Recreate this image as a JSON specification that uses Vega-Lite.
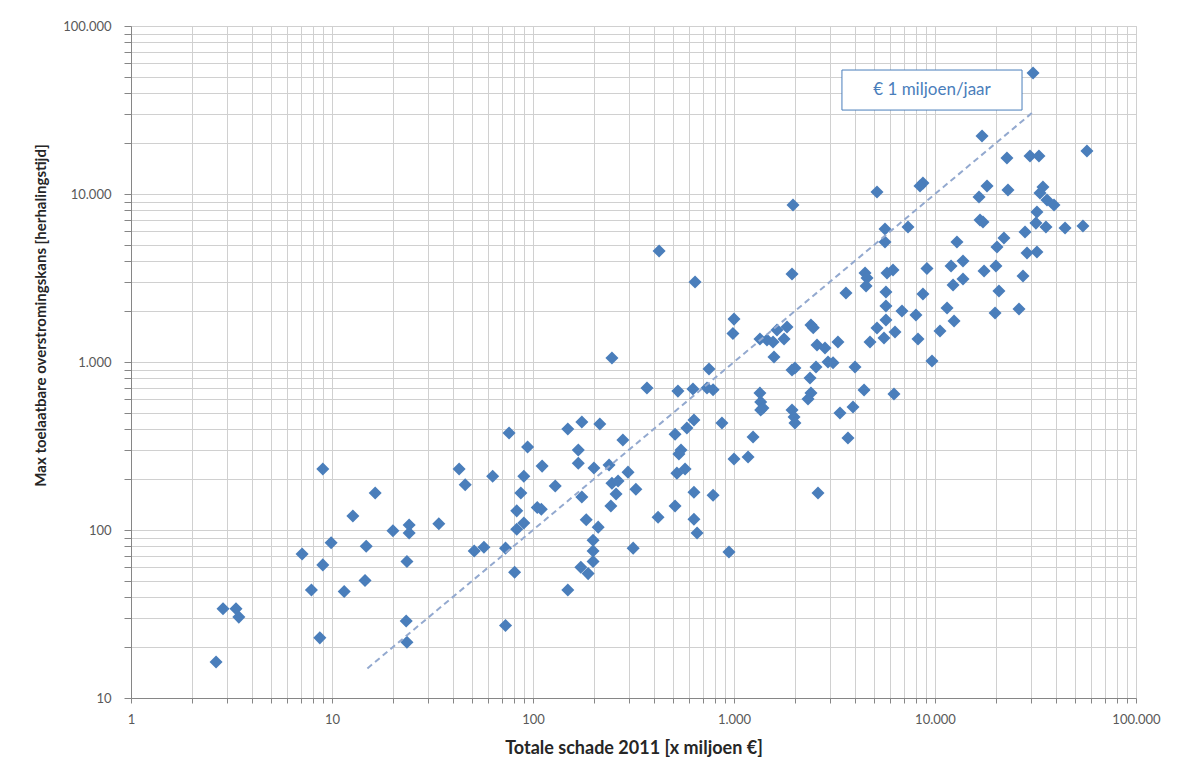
{
  "$schema": "https://vega.github.io/schema/vega-lite/v6.json",
  "width": 1005,
  "height": 672,
  "autosize": {"type": "none"},
  "padding": {"left": 131, "top": 26, "right": 45, "bottom": 78},
  "background": "white",
  "config": {
    "view": {"stroke": "#d0d0d0", "strokeWidth": 1},
    "font": "Lato",
    "axis": {
      "gridColor": "#d0d0d0",
      "gridWidth": 1,
      "domainColor": "#868686",
      "tickColor": "#868686",
      "labelColor": "#595959",
      "labelFont": "Lato",
      "labelFontSize": 13,
      "titleColor": "#262626",
      "titleFont": "Lato"
    }
  },
  "datasets": {
    "pts": [
      {"schade": 2.87, "kans": 34}, {"schade": 3.33, "kans": 34}, {"schade": 3.44, "kans": 30.3}, {"schade": 2.65, "kans": 16.4},
      {"schade": 7.1, "kans": 72}, {"schade": 9.0, "kans": 62}, {"schade": 7.9, "kans": 44}, {"schade": 8.7, "kans": 22.8},
      {"schade": 9.9, "kans": 84}, {"schade": 11.5, "kans": 43}, {"schade": 12.7, "kans": 121}, {"schade": 16.4, "kans": 166},
      {"schade": 14.8, "kans": 80}, {"schade": 14.6, "kans": 50}, {"schade": 20.1, "kans": 99}, {"schade": 24.2, "kans": 107},
      {"schade": 24.2, "kans": 96}, {"schade": 23.6, "kans": 65}, {"schade": 23.4, "kans": 28.7}, {"schade": 23.6, "kans": 21.5},
      {"schade": 34, "kans": 109}, {"schade": 46, "kans": 186}, {"schade": 51, "kans": 75}, {"schade": 57, "kans": 79},
      {"schade": 9.0, "kans": 231}, {"schade": 42.9, "kans": 231}, {"schade": 63, "kans": 209}, {"schade": 76, "kans": 378},
      {"schade": 94, "kans": 312}, {"schade": 111, "kans": 240}, {"schade": 90, "kans": 209}, {"schade": 87, "kans": 166},
      {"schade": 129, "kans": 183}, {"schade": 105, "kans": 136}, {"schade": 110, "kans": 133}, {"schade": 83, "kans": 130},
      {"schade": 90, "kans": 110}, {"schade": 83, "kans": 101}, {"schade": 73, "kans": 78}, {"schade": 81, "kans": 56},
      {"schade": 73, "kans": 27}, {"schade": 247, "kans": 1057}, {"schade": 988, "kans": 1480}, {"schade": 1000, "kans": 1800},
      {"schade": 369, "kans": 700}, {"schade": 526, "kans": 671}, {"schade": 625, "kans": 690}, {"schade": 751, "kans": 908},
      {"schade": 734, "kans": 700}, {"schade": 787, "kans": 684}, {"schade": 871, "kans": 434}, {"schade": 1244, "kans": 358},
      {"schade": 1000, "kans": 265}, {"schade": 1175, "kans": 272}, {"schade": 149, "kans": 399}, {"schade": 175, "kans": 439},
      {"schade": 215, "kans": 428}, {"schade": 280, "kans": 343}, {"schade": 168, "kans": 299}, {"schade": 168, "kans": 250},
      {"schade": 201, "kans": 234}, {"schade": 239, "kans": 244}, {"schade": 297, "kans": 221}, {"schade": 247, "kans": 190},
      {"schade": 265, "kans": 196}, {"schade": 325, "kans": 175}, {"schade": 175, "kans": 157}, {"schade": 259, "kans": 164},
      {"schade": 244, "kans": 139}, {"schade": 184, "kans": 115}, {"schade": 211, "kans": 104}, {"schade": 199, "kans": 87},
      {"schade": 199, "kans": 75}, {"schade": 199, "kans": 65}, {"schade": 173, "kans": 60}, {"schade": 188, "kans": 55},
      {"schade": 149, "kans": 44}, {"schade": 315, "kans": 78}, {"schade": 419, "kans": 119}, {"schade": 509, "kans": 372},
      {"schade": 632, "kans": 452}, {"schade": 583, "kans": 405}, {"schade": 545, "kans": 299}, {"schade": 532, "kans": 283},
      {"schade": 520, "kans": 218}, {"schade": 571, "kans": 231}, {"schade": 632, "kans": 168}, {"schade": 787, "kans": 161},
      {"schade": 509, "kans": 139}, {"schade": 632, "kans": 116}, {"schade": 655, "kans": 96}, {"schade": 944, "kans": 74},
      {"schade": 1944, "kans": 3342}, {"schade": 3606, "kans": 2577}, {"schade": 4487, "kans": 3388}, {"schade": 4590, "kans": 3162},
      {"schade": 4540, "kans": 2833}, {"schade": 5770, "kans": 3388}, {"schade": 6180, "kans": 3533}, {"schade": 5700, "kans": 2611},
      {"schade": 5700, "kans": 2154}, {"schade": 8710, "kans": 2541}, {"schade": 12300, "kans": 2871}, {"schade": 9120, "kans": 3600},
      {"schade": 6850, "kans": 2013}, {"schade": 8040, "kans": 1906}, {"schade": 11480, "kans": 2095}, {"schade": 12440, "kans": 1754},
      {"schade": 10590, "kans": 1530}, {"schade": 9660, "kans": 1014}, {"schade": 5700, "kans": 1778}, {"schade": 5145, "kans": 1592},
      {"schade": 5575, "kans": 1389}, {"schade": 6324, "kans": 1510}, {"schade": 4750, "kans": 1315}, {"schade": 3290, "kans": 1315},
      {"schade": 4000, "kans": 933}, {"schade": 4436, "kans": 681}, {"schade": 6250, "kans": 645}, {"schade": 3909, "kans": 540},
      {"schade": 3367, "kans": 497}, {"schade": 3690, "kans": 353}, {"schade": 2618, "kans": 166}, {"schade": 2415, "kans": 1660},
      {"schade": 2480, "kans": 1600}, {"schade": 2588, "kans": 1262}, {"schade": 2836, "kans": 1211}, {"schade": 2936, "kans": 1000},
      {"schade": 3110, "kans": 991}, {"schade": 2558, "kans": 933}, {"schade": 2389, "kans": 803}, {"schade": 2415, "kans": 653},
      {"schade": 2335, "kans": 603}, {"schade": 1944, "kans": 895}, {"schade": 2010, "kans": 921}, {"schade": 1581, "kans": 1072},
      {"schade": 1346, "kans": 1370}, {"schade": 1459, "kans": 1352}, {"schade": 1564, "kans": 1315}, {"schade": 1637, "kans": 1550},
      {"schade": 1835, "kans": 1614}, {"schade": 1774, "kans": 1370}, {"schade": 1346, "kans": 653}, {"schade": 1358, "kans": 578},
      {"schade": 1393, "kans": 532}, {"schade": 1358, "kans": 518}, {"schade": 1944, "kans": 518}, {"schade": 1990, "kans": 471},
      {"schade": 2010, "kans": 434}, {"schade": 1966, "kans": 8610}, {"schade": 5145, "kans": 10280}, {"schade": 8710, "kans": 11610},
      {"schade": 8420, "kans": 11170}, {"schade": 5640, "kans": 6190}, {"schade": 5640, "kans": 5180}, {"schade": 7340, "kans": 6370},
      {"schade": 12860, "kans": 5180}, {"schade": 12020, "kans": 3727}, {"schade": 424, "kans": 4580}, {"schade": 640, "kans": 2993},
      {"schade": 30750, "kans": 52480}, {"schade": 17140, "kans": 22130}, {"schade": 22800, "kans": 16370}, {"schade": 29700, "kans": 16830},
      {"schade": 32900, "kans": 16830}, {"schade": 57000, "kans": 18030}, {"schade": 18150, "kans": 11170}, {"schade": 16560, "kans": 9590},
      {"schade": 23070, "kans": 10570}, {"schade": 34440, "kans": 11020}, {"schade": 33280, "kans": 10140}, {"schade": 36070, "kans": 9200},
      {"schade": 39080, "kans": 8610}, {"schade": 16750, "kans": 7000}, {"schade": 17330, "kans": 6810}, {"schade": 32150, "kans": 7810},
      {"schade": 31780, "kans": 6710}, {"schade": 35650, "kans": 6370}, {"schade": 44360, "kans": 6280}, {"schade": 54450, "kans": 6450},
      {"schade": 28050, "kans": 5940}, {"schade": 22030, "kans": 5470}, {"schade": 20340, "kans": 4840}, {"schade": 28700, "kans": 4460},
      {"schade": 32150, "kans": 4520}, {"schade": 13780, "kans": 3990}, {"schade": 20100, "kans": 3727}, {"schade": 17540, "kans": 3484},
      {"schade": 13780, "kans": 3119}, {"schade": 27400, "kans": 3251}, {"schade": 20800, "kans": 2650}, {"schade": 19900, "kans": 1958},
      {"schade": 26180, "kans": 2066}, {"schade": 8230, "kans": 1370}
    ],
    "lijn": [
      {"schade": 15, "kans": 15},
      {"schade": 31000, "kans": 31000}
    ],
    "label": [
      {"x1": 3444, "x2": 27100, "y1": 31600, "y2": 54700, "tx": 9660, "ty": 41600, "tekst": "€ 1 miljoen/jaar"}
    ]
  },
  "layer": [
    {
      "data": {"name": "pts"},
      "mark": {"type": "point", "shape": "diamond", "filled": true, "size": 170, "color": "#4a7ebb", "opacity": 1},
      "encoding": {
        "x": {
          "field": "schade", "type": "quantitative",
          "scale": {"type": "log", "domain": [1, 100000], "nice": false},
          "axis": {
            "title": "Totale schade 2011 [x miljoen €]",
            "titleFontSize": 18, "titleFontWeight": "bold",
            "titleY": 50, "titleBaseline": "middle",
            "values": [1,2,3,4,5,6,7,8,9,10,20,30,40,50,60,70,80,90,100,200,300,400,500,600,700,800,900,1000,2000,3000,4000,5000,6000,7000,8000,9000,10000,20000,30000,40000,50000,60000,70000,80000,90000,100000],
            "labelExpr": "indexof([1,10,100,1000,10000,100000], datum.value) >= 0 ? replace(format(datum.value, ','), ',', '.') : ''",
            "tickSize": 5, "labelPadding": 10, "labelFlush": false, "labelOverlap": false
          }
        },
        "y": {
          "field": "kans", "type": "quantitative",
          "scale": {"type": "log", "domain": [10, 100000], "nice": false},
          "axis": {
            "title": "Max toelaatbare overstromingskans  [herhalingstijd]",
            "titleFontSize": 15, "titleFontWeight": "bold",
            "titleX": -91, "titleY": 289, "titleAngle": -90, "titleBaseline": "middle", "titleAlign": "center",
            "values": [10,20,30,40,50,60,70,80,90,100,200,300,400,500,600,700,800,900,1000,2000,3000,4000,5000,6000,7000,8000,9000,10000,20000,30000,40000,50000,60000,70000,80000,90000,100000],
            "labelExpr": "indexof([10,100,1000,10000,100000], datum.value) >= 0 ? replace(format(datum.value, ','), ',', '.') : ''",
            "tickSize": 7, "labelPadding": 13, "labelFlush": false, "labelOverlap": false
          }
        }
      }
    },
    {
      "data": {"name": "lijn"},
      "mark": {"type": "line", "color": "#93a9cf", "strokeWidth": 2, "strokeDash": [6, 4]},
      "encoding": {
        "x": {"field": "schade", "type": "quantitative"},
        "y": {"field": "kans", "type": "quantitative"}
      }
    },
    {
      "data": {"name": "label"},
      "mark": {"type": "rect", "fill": "white", "stroke": "#4a7ebb", "strokeWidth": 1},
      "encoding": {
        "x": {"field": "x1", "type": "quantitative"},
        "x2": {"field": "x2"},
        "y": {"field": "y1", "type": "quantitative"},
        "y2": {"field": "y2"}
      }
    },
    {
      "data": {"name": "label"},
      "mark": {"type": "text", "color": "#4a7ebb", "fontSize": 17, "font": "Lato", "align": "center", "baseline": "middle"},
      "encoding": {
        "x": {"field": "tx", "type": "quantitative"},
        "y": {"field": "ty", "type": "quantitative"},
        "text": {"field": "tekst"}
      }
    }
  ]
}
